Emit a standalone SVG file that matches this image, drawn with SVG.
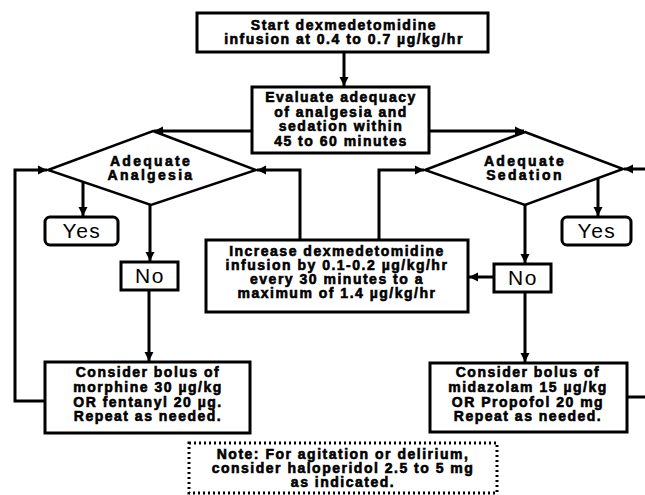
<svg xmlns="http://www.w3.org/2000/svg" width="645" height="495" viewBox="0 0 645 495">
<defs>
<marker id="ah" markerUnits="userSpaceOnUse" markerWidth="10" markerHeight="10" refX="9" refY="5" orient="auto">
<path d="M0,0.5 L9,5 L0,9.5 Z" fill="#000"/>
</marker>
<style>
.box{fill:#fff;stroke:#000;stroke-width:3}
.dia{fill:#fff;stroke:#000;stroke-width:2.5;stroke-linejoin:miter}
.note{fill:#fff;stroke:#000;stroke-width:3;stroke-dasharray:2 3}
.c{fill:none;stroke:#000;stroke-width:3}
.a{marker-end:url(#ah)}
.t{font-family:"Liberation Sans",Arial,sans-serif;font-weight:bold;font-size:14px;letter-spacing:1.5px;text-anchor:middle;fill:#000;stroke:#000;stroke-width:0.6}
.d{letter-spacing:2.3px}
.r{font-family:"Liberation Sans",Arial,sans-serif;font-size:21px;letter-spacing:1.5px;text-anchor:middle;fill:#000}
</style>
</defs>
<rect width="645" height="495" fill="#fff"/>
<g id="connectors">
<line class="c a" x1="344" y1="52" x2="344" y2="86"/>
<line class="c a" x1="252" y1="131" x2="154" y2="131"/>
<line class="c a" x1="429" y1="131" x2="524" y2="131"/>
<polyline class="c a" points="300,240 300,170 257,170"/>
<polyline class="c a" points="379,240 379,170 424,170"/>
<polyline class="c a" points="45,401 15,401 15,170 47,170"/>
<line class="c a" x1="645" y1="169" x2="624" y2="169"/>
<line class="c" x1="627" y1="397" x2="645" y2="397"/>
<line class="c a" x1="83" y1="182" x2="83" y2="216"/>
<line class="c a" x1="598" y1="178" x2="598" y2="216"/>
<line class="c a" x1="150" y1="205" x2="150" y2="261"/>
<line class="c a" x1="149" y1="290" x2="149" y2="361"/>
<line class="c a" x1="525" y1="205" x2="525" y2="263"/>
<line class="c a" x1="525" y1="292" x2="525" y2="362"/>
<line class="c a" x1="494" y1="277" x2="469" y2="277"/>
</g>
<g id="start">
<rect class="box" x="197" y="13" width="291" height="39"/>
<text class="t" x="344" y="30">Start dexmedetomidine</text>
<text class="t" x="344" y="44">infusion at 0.4 to 0.7 µg/kg/hr</text>
</g>
<g id="evaluate">
<rect class="box" x="252" y="87" width="177" height="66"/>
<text class="t" x="341" y="102">Evaluate adequacy</text>
<text class="t" x="341" y="117">of analgesia and</text>
<text class="t" x="341" y="131">sedation within</text>
<text class="t" x="341" y="146">45 to 60 minutes</text>
</g>
<g id="analgesia">
<polygon class="dia" points="153,131 256,170 151,205 48,170"/>
<text class="t d" x="151" y="166">Adequate</text>
<text class="t d" x="151" y="180">Analgesia</text>
</g>
<g id="sedation">
<polygon class="dia" points="525,132 623,169 525,205 425,170"/>
<text class="t d" x="525" y="166">Adequate</text>
<text class="t d" x="525" y="180">Sedation</text>
</g>
<g id="yes-left">
<rect class="box" x="45" y="217" width="73" height="28" rx="5" stroke-width="2.5"/>
<text class="r" x="82" y="238">Yes</text>
</g>
<g id="yes-right">
<rect class="box" x="562" y="217" width="69" height="28" rx="5" stroke-width="2.5"/>
<text class="r" x="597" y="238">Yes</text>
</g>
<g id="no-left">
<rect class="box" x="121" y="262" width="57" height="28"/>
<text class="r" x="150" y="283">No</text>
</g>
<g id="no-right">
<rect class="box" x="494" y="264" width="57" height="28"/>
<text class="r" x="523" y="285">No</text>
</g>
<g id="increase">
<rect class="box" x="206" y="240" width="262" height="72"/>
<text class="t" x="337" y="256">Increase dexmedetomidine</text>
<text class="t" x="337" y="270">infusion by 0.1-0.2 µg/kg/hr</text>
<text class="t" x="337" y="284">every 30 minutes to a</text>
<text class="t" x="337" y="298">maximum of 1.4 µg/kg/hr</text>
</g>
<g id="bolus-analgesia">
<rect class="box" x="45" y="362" width="205" height="71"/>
<text class="t" x="148" y="377">Consider bolus of</text>
<text class="t" x="148" y="392">morphine 30 µg/kg</text>
<text class="t" x="148" y="407">OR fentanyl 20 µg.</text>
<text class="t" x="148" y="421">Repeat as needed.</text>
</g>
<g id="bolus-sedation">
<rect class="box" x="430" y="363" width="197" height="69"/>
<text class="t" x="528" y="377">Consider bolus of</text>
<text class="t" x="528" y="392">midazolam 15 µg/kg</text>
<text class="t" x="528" y="407">OR Propofol 20 mg</text>
<text class="t" x="528" y="421">Repeat as needed.</text>
</g>
<g id="note">
<rect class="note" x="189" y="443" width="308" height="50"/>
<text class="t" x="343" y="459">Note: For agitation or delirium,</text>
<text class="t" x="343" y="473">consider haloperidol 2.5 to 5 mg</text>
<text class="t" x="343" y="487">as indicated.</text>
</g>
</svg>
